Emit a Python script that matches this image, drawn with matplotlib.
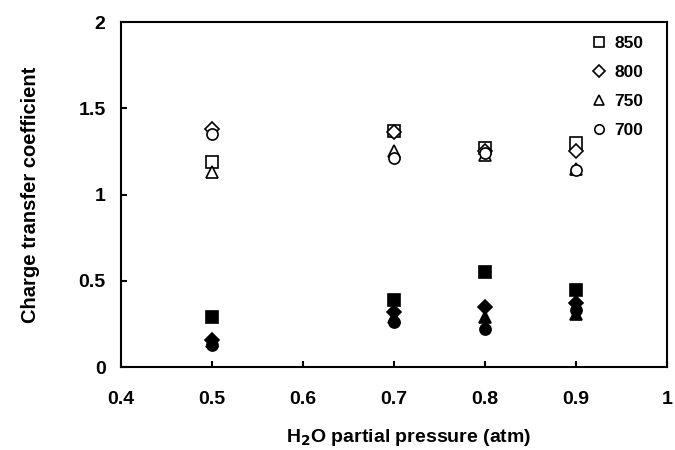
import matplotlib.pyplot as plt

plt.rcParams['font.family'] = ['Liberation Sans', 'DejaVu Sans']
plt.rcParams['font.weight'] = 'bold'

# H2O partial pressure (atm)
pressure = [0.5, 0.7, 0.8, 0.9]
temps = ['850', '800', '750', '700']
markers = ['s', 'D', '^', 'o']
sizes = [8, 7.5, 9, 8]

# open symbols (upper group) and filled symbols (lower group), per temperature
open_vals = {
    '850': [1.19, 1.37, 1.27, 1.30],
    '800': [1.38, 1.36, 1.25, 1.25],
    '750': [1.13, 1.25, 1.23, 1.15],
    '700': [1.35, 1.21, 1.24, 1.14],
}
filled_vals = {
    '850': [0.29, 0.39, 0.55, 0.45],
    '800': [0.16, 0.32, 0.35, 0.37],
    '750': [0.15, 0.29, 0.29, 0.31],
    '700': [0.13, 0.26, 0.22, 0.33],
}


def main():
    fig = plt.figure(figsize=(6.75, 4.5), dpi=100)
    ax = fig.add_axes([0.179, 0.184, 0.809, 0.767])

    for t, m, s in zip(temps, markers, sizes):
        ax.plot(pressure, open_vals[t], linestyle='none', marker=m, ms=s,
                mfc='white', mec='black', mew=1.2, label=t)
        ax.plot(pressure, filled_vals[t], linestyle='none', marker=m, ms=s,
                mfc='black', mec='black', mew=1.2)

    ax.set_xlim(0.4, 1.0)
    ax.set_ylim(0, 2)
    ax.set_xticks([0.4, 0.5, 0.6, 0.7, 0.8, 0.9, 1.0])
    ax.set_xticklabels(['0.4', '0.5', '0.6', '0.7', '0.8', '0.9', '1'])
    ax.set_yticks([0, 0.5, 1, 1.5, 2])
    ax.set_yticklabels(['0', '0.5', '1', '1.5', '2'])
    ax.tick_params(direction='in', length=4, width=1.5, labelsize=14)
    ax.tick_params(axis='x', pad=17)
    ax.tick_params(axis='y', pad=11)
    for sp in ax.spines.values():
        sp.set_linewidth(1.5)

    ax.set_xlabel('H$_\\mathbf{2}$O partial pressure (atm)', fontsize=14,
                  fontweight='bold', va='center')
    ax.set_ylabel('Charge transfer coefficient', fontsize=14.5,
                  fontweight='bold', va='center')
    ax.xaxis.set_label_coords(0.527, -0.205)
    ax.yaxis.set_label_coords(-0.165, 0.5)

    ax.legend(loc='upper right', frameon=False, fontsize=12.5, handlelength=0.8,
              handletextpad=0.5, labelspacing=0.8, borderaxespad=0.4,
              markerscale=0.85, bbox_to_anchor=(0.982, 1.0))

    fig.savefig('out.png', dpi=100)


if __name__ == '__main__':
    main()
